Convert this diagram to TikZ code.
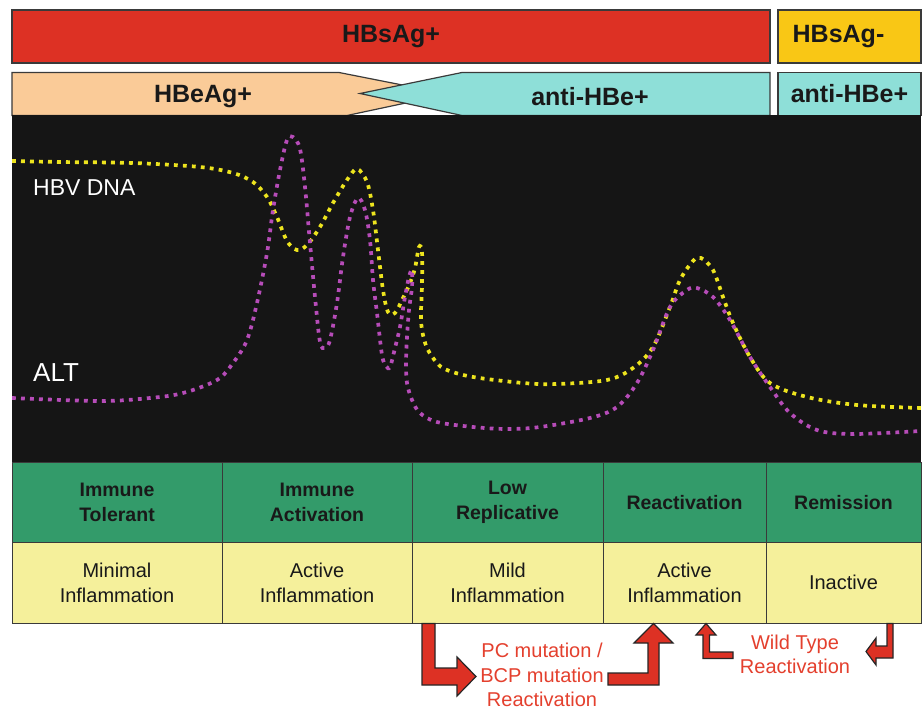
\documentclass[tikz,border=0pt]{standalone}
\usepackage{fontspec}
\setmainfont{Liberation Sans}
\definecolor{hbred}{HTML}{DD3124}
\definecolor{hbgold}{HTML}{F9C715}
\definecolor{hborange}{HTML}{FACB98}
\definecolor{hbcyan}{HTML}{8EDFD8}
\definecolor{hbblack}{HTML}{151515}
\definecolor{hbgreen}{HTML}{339B6A}
\definecolor{hbpale}{HTML}{F5F09B}
\definecolor{hbtext}{HTML}{E4402E}
\definecolor{hbyel}{HTML}{EDE41E}
\definecolor{hbmag}{HTML}{B64CB8}
\definecolor{hbline}{HTML}{3A3A3A}
\begin{document}
\begin{tikzpicture}[x=1pt,y=-1pt,
  barbox/.style={draw=hbline,line width=1.2pt,inner sep=0pt,outer sep=0pt,
    font=\fontsize{25}{28}\selectfont\bfseries,text=black!90},
  bartext/.style={font=\fontsize{25}{28}\selectfont\bfseries,text=black!90,inner sep=0pt},
  hcell/.style={draw=hbline,line width=1pt,fill=hbgreen,inner sep=0pt,outer sep=0pt,
    align=center,font=\fontsize{19.5}{25}\selectfont\bfseries,text=black!90},
  icell/.style={draw=hbline,line width=1pt,fill=hbpale,inner sep=0pt,outer sep=0pt,
    align=center,font=\fontsize{20}{25}\selectfont,text=black!90},
  redlbl/.style={align=center,font=\fontsize{20}{24.5}\selectfont,text=hbtext,inner sep=0pt},
  bigarrow/.style={fill=hbred,draw=black!85,line width=1.2pt,line join=miter},
  dnacurve/.style={hbyel,line width=3.7pt,dash pattern=on 3.8pt off 5.2pt},
  altcurve/.style={hbmag,line width=3.7pt,dash pattern=on 3.8pt off 5.2pt}
]
\useasboundingbox (0,0) rectangle (922,711);
\fill[white] (0,0) rectangle (922,711);

% top row
\node[barbox,fill=hbred,minimum width=758pt,minimum height=53pt] (hbsp) at (391,36.5) {HBsAg+};
\node[barbox,fill=hbgold,minimum width=143pt,minimum height=53pt] (hbsn) at (849.5,36.5) {\hspace*{-22pt}HBsAg-};

% second row
\draw[fill=hborange,draw=hbline,line width=1.2pt] (12,72.5) -- (339,72.5) -- (448,94) -- (347,115.5) -- (12,115.5) -- cycle;
\draw[fill=hbcyan,draw=hbline,line width=1.2pt] (360,93.5) -- (462,72.5) -- (770,72.5) -- (770,115.5) -- (462,115.5) -- cycle;
\node[barbox,fill=hbcyan,minimum width=143pt,minimum height=43pt] (ahbr) at (849.5,94) {anti-HBe+};
\node[bartext] (hbep) at (203,97) {HBeAg+};
\node[bartext] (ahbl) at (590,97) {anti-HBe+};

% black chart area
\fill[hbblack] (12,115.5) rectangle (921,463);
\node[inner sep=0pt,anchor=west,text=white,font=\fontsize{23}{26}\selectfont] (dna) at (33,188) {HBV DNA};
\node[inner sep=0pt,anchor=west,text=white,font=\fontsize{26}{28}\selectfont] (alt) at (33,373) {ALT};

\begin{scope}
\clip (12,116) rectangle (921,462);
\draw[dnacurve] plot[smooth,tension=0.55] coordinates {
(12,161) (60,162) (133,163) (200,167) (233,173) (253,182) (267,197) (277,217) (287,241) (297,250) (307,245) (320,227) (333,203) (347,180) (357,169) (367,182) (373,210) (378,250) (383,290) (388,312) (395,313) (403,298) (410,283) (415,268) (419,247) (422,252) (422,285) (421,313) (422,330) (427,348) (437,363) (447,370) (473,377) (523,383) (557,384) (607,380) (633,368) (653,347) (670,307) (680,280) (693,261) (701,258) (713,270) (723,297) (733,323) (750,357) (770,383) (807,397) (857,405) (921,408)};
\draw[altcurve] plot[smooth,tension=0.55] coordinates {
(12,398) (100,401) (150,398) (183,393) (217,380) (233,363) (247,340) (257,303) (267,253) (273,210) (280,170) (287,140) (293,137) (300,149) (305,187) (310,243) (315,297) (320,342) (325,348) (330,340) (337,303) (343,257) (350,217) (358,198) (365,210) (370,240) (373,280) (377,313) (382,355) (386,366) (390,367) (395,348) (400,327) (405,297) (409,277) (412,270) (412,287) (409,310) (407,337) (406,363) (407,383) (412,400) (420,413) (437,422) (473,427) (507,429) (540,427) (590,418) (617,407) (637,383) (653,350) (670,307) (687,290) (697,288) (713,297) (730,320) (750,357) (770,387) (790,413) (817,430) (853,434) (921,431)};
\end{scope}

% table
\node[hcell,minimum width=210pt,minimum height=79pt] (h1) at (117,502.5) {Immune\\Tolerant};
\node[hcell,minimum width=190pt,minimum height=79pt] (h2) at (317,502.5) {Immune\\Activation};
\node[hcell,minimum width=191pt,minimum height=79pt] (h3) at (507.5,502.5) {Low\\Replicative};
\node[hcell,minimum width=163pt,minimum height=79pt] (h4) at (684.5,502.5) {Reactivation};
\node[hcell,minimum width=155pt,minimum height=79pt] (h5) at (843.5,502.5) {Remission};
\node[icell,minimum width=210pt,minimum height=81pt] (i1) at (117,582.5) {Minimal\\Inflammation};
\node[icell,minimum width=190pt,minimum height=81pt] (i2) at (317,582.5) {Active\\Inflammation};
\node[icell,minimum width=191pt,minimum height=81pt] (i3) at (507.5,582.5) {Mild\\Inflammation};
\node[icell,minimum width=163pt,minimum height=81pt] (i4) at (684.5,582.5) {Active\\Inflammation};
\node[icell,minimum width=155pt,minimum height=81pt] (i5) at (843.5,582.5) {Inactive};

% bottom labels
\node[redlbl] (pc) at (542,675) {PC mutation /\\BCP mutation\\Reactivation};
\node[redlbl] (wt) at (795,654.5) {Wild Type\\Reactivation};

% bent arrows
\draw[bigarrow] (422,623.5) -- (435,623.5) -- (435,668) -- (457,668) -- (457,657) -- (476,676.5) -- (457,696) -- (457,685) -- (422,685) -- cycle;
\draw[bigarrow] (608,673) -- (648,673) -- (648,643) -- (634,643) -- (653.5,623.5) -- (673,643) -- (659,643) -- (659,685) -- (608,685) -- cycle;
\draw[bigarrow] (706,623.5) -- (716,635) -- (709.5,635) -- (709.5,652) -- (733,652) -- (733,658.5) -- (703,658.5) -- (703,635) -- (696,635) -- cycle;
\draw[bigarrow] (893,623.5) -- (893,658) -- (876,658) -- (876,665) -- (866,651.5) -- (876,638) -- (876,646) -- (887,646) -- (887,623.5) -- cycle;
\end{tikzpicture}
\end{document}
